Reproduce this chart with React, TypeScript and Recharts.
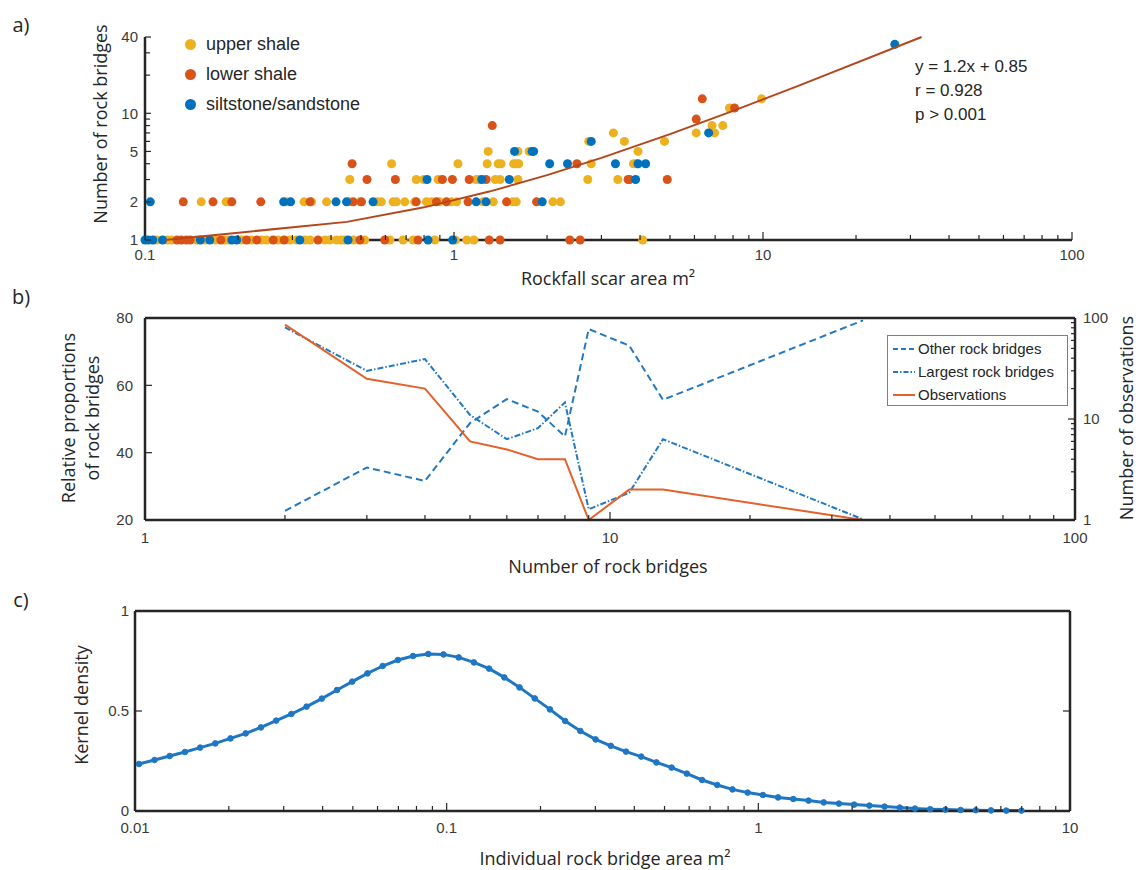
import React from "react";
import { ScatterChart, Scatter, LineChart, Line, XAxis, YAxis, ZAxis, Legend } from "recharts";

const TICK_FONT = "'Liberation Sans', Arial, sans-serif";
const TITLE_FONT = "'Open Sans', sans-serif";
const AXIS = "#262626";

// ---------- panel a: rockfall scar area (m²) vs number of rock bridges ----------
const upperShale: [number, number][] = [
  [0.109, 1], [0.118, 1], [0.122, 1], [0.147, 1], [0.156, 1], [0.168, 1], [0.181, 1], [0.186, 1],
  [0.205, 1], [0.221, 1], [0.238, 1], [0.247, 1], [0.27, 1], [0.294, 1], [0.309, 1], [0.329, 1],
  [0.342, 1], [0.382, 1], [0.396, 1], [0.417, 1], [0.432, 1], [0.443, 1], [0.472, 1], [0.514, 1],
  [0.62, 1], [0.684, 1], [0.737, 1], [0.867, 1], [1.01, 1], [1.1, 1], [1.16, 1], [4.08, 1],
  [0.152, 2], [0.183, 2], [0.187, 2], [0.287, 2], [0.327, 2], [0.346, 2], [0.387, 2], [0.458, 2],
  [0.496, 2], [0.564, 2], [0.582, 2], [0.635, 2], [0.651, 2], [0.693, 2], [0.746, 2], [0.814, 2],
  [0.845, 2], [0.899, 2], [0.981, 2], [1.02, 2], [1.24, 2], [1.34, 2], [1.55, 2], [1.59, 2],
  [2.09, 2], [2.21, 2],
  [0.46, 3], [0.755, 3], [0.798, 3], [0.888, 3], [1.18, 3], [1.21, 3], [1.36, 3], [1.41, 3],
  [1.61, 3], [2.71, 3], [3.39, 3],
  [0.628, 4], [1.03, 4], [1.28, 4], [1.39, 4], [1.42, 4], [1.56, 4], [1.59, 4], [1.62, 4],
  [2.78, 4], [3.81, 4], [3.89, 4],
  [1.29, 5], [1.61, 5], [1.75, 5], [3.94, 5],
  [2.73, 6], [3.56, 6], [4.8, 6],
  [3.28, 7], [6.08, 7], [6.97, 7],
  [6.84, 8], [7.41, 8], [7.79, 11], [9.9, 13],
];

const lowerShale: [number, number][] = [
  [0.127, 1], [0.131, 1], [0.136, 1], [0.14, 1], [0.176, 1], [0.213, 1], [0.23, 1], [0.26, 1],
  [0.282, 1], [0.363, 1], [0.496, 1], [0.597, 1], [0.765, 1], [1.3, 1], [1.41, 1], [2.37, 1], [2.56, 1],
  [0.133, 2], [0.166, 2], [0.191, 2], [0.237, 2], [0.342, 2], [0.472, 2], [0.502, 2], [0.755, 2],
  [0.877, 2], [0.945, 2], [1.11, 2], [1.48, 2], [1.85, 2],
  [0.523, 3], [0.646, 3], [0.917, 3], [0.988, 3], [1.12, 3], [1.27, 3], [3.66, 3], [3.7, 3], [4.9, 3],
  [0.468, 4], [2.5, 4],
  [1.33, 8], [6.08, 9], [8.09, 11], [6.36, 13],
];

const siltstone: [number, number][] = [
  [0.1, 1], [0.1025, 1], [0.106, 1], [0.114, 1], [0.151, 1], [0.162, 1], [0.191, 1], [0.198, 1],
  [0.317, 1], [0.454, 1], [0.824, 1], [0.99, 1],
  [0.104, 2], [0.281, 2], [0.296, 2], [0.415, 2], [0.449, 2], [0.547, 2], [1.18, 2], [1.27, 2], [1.93, 2],
  [0.818, 3], [1.23, 3], [1.51, 3], [3.87, 3],
  [2.04, 4], [2.33, 4], [3.33, 4], [3.94, 4], [4.17, 4],
  [1.57, 5], [1.79, 5], [1.81, 5],
  [2.78, 6], [6.67, 7], [26.7, 35],
];

// fitted line as it is drawn in the figure
const trendArea = [0.116, 0.45, 0.8, 1.3, 2, 3, 5, 8, 13, 32.6];
const trendBridges = [1.0, 1.39, 1.81, 2.41, 3.25, 4.45, 6.85, 10.45, 16.45, 40];

const areaTicksA = [
  0.1, 0.2, 0.3, 0.4, 0.5, 0.6, 0.7, 0.8, 0.9, 1, 2, 3, 4, 5, 6, 7, 8, 9,
  10, 20, 30, 40, 50, 60, 70, 80, 90, 100,
];
const bridgeTicksA = [1, 2, 3, 4, 5, 6, 7, 8, 9, 10, 20, 30, 40];
const bridgeLabelsA = [1, 2, 5, 10, 40];

// ---------- panel b: proportions per number of rock bridges ----------
const bridgeCounts = [2, 3, 4, 5, 6, 7, 8, 9, 11, 13, 35];
const otherPct = [22.7, 35.6, 31.6, 48.8, 55.9, 52.2, 44.8, 76.7, 71.8, 55.7, 79.3];
const largestPct = [77.2, 64.3, 67.8, 51.2, 44, 47.3, 54.9, 23.2, 28.1, 44, 20.2];
const observations = [86, 25, 20, 6, 5, 4, 4, 1, 2, 2, 1];

const countTicksB = [
  1, 2, 3, 4, 5, 6, 7, 8, 9, 10, 20, 30, 40, 50, 60, 70, 80, 90, 100,
];
const pctTicksB = [20, 40, 60, 80];

// ---------- panel c: kernel density of individual rock bridge area ----------
const bridgeArea = [
  0.0103, 0.01155, 0.01292, 0.01446, 0.01618, 0.0181, 0.02025, 0.02266, 0.02536, 0.02838,
  0.03175, 0.03553, 0.03976, 0.04449, 0.04977, 0.05569, 0.06232, 0.06973, 0.07802, 0.0873,
  0.09768, 0.1093, 0.1223, 0.1368, 0.1531, 0.1713, 0.1917, 0.2145, 0.24, 0.2685,
  0.3005, 0.3362, 0.3762, 0.4209, 0.471, 0.527, 0.5897, 0.6598, 0.7383, 0.826,
  0.9243, 1.034, 1.157, 1.295, 1.449, 1.621, 1.814, 2.03, 2.271, 2.541,
  2.843, 3.181, 3.56, 3.983, 4.457, 4.987, 5.58, 6.243, 6.986,
];
const kernelDensity = [
  0.235, 0.255, 0.275, 0.295, 0.317, 0.338, 0.363, 0.388, 0.418, 0.452,
  0.485, 0.522, 0.562, 0.605, 0.647, 0.688, 0.725, 0.755, 0.775, 0.785,
  0.783, 0.768, 0.743, 0.712, 0.668, 0.618, 0.563, 0.508, 0.45, 0.4,
  0.358, 0.326, 0.297, 0.272, 0.243, 0.217, 0.187, 0.155, 0.13, 0.108,
  0.092, 0.08, 0.068, 0.06, 0.052, 0.043, 0.037, 0.032, 0.027, 0.022,
  0.017, 0.012, 0.009, 0.007, 0.005, 0.004, 0.003, 0.002, 0.002,
];

const areaTicksC = [
  0.01, 0.02, 0.03, 0.04, 0.05, 0.06, 0.07, 0.08, 0.09,
  0.1, 0.2, 0.3, 0.4, 0.5, 0.6, 0.7, 0.8, 0.9,
  1, 2, 3, 4, 5, 6, 7, 8, 9, 10,
];
const densityTicksC = [0, 0.5, 1];

// ---------- helpers ----------
type Side = "bottom" | "top" | "left" | "right";
interface TickSpec {
  side: Side;
  labels?: number[];
  major?: number[];
  majorLen?: number;
  minorLen?: number;
  gap?: number;
}

function axisTick(spec: TickSpec) {
  const { side, labels = [], major = [], majorLen = 8, minorLen = 5, gap = 7 } = spec;
  return function Tick(props: any) {
    const { x, y, payload } = props;
    const v = payload.value as number;
    const len = major.includes(v) ? majorLen : minorLen;
    let x2 = x;
    let y2 = y;
    if (side === "bottom") y2 = y - len;
    if (side === "top") y2 = y + len;
    if (side === "left") x2 = x + len;
    if (side === "right") x2 = x - len;
    const style = { fill: "#3a3a3a", fontSize: 15, fontFamily: TICK_FONT };
    let text = null;
    if (labels.includes(v)) {
      if (side === "bottom")
        text = <text x={x} y={y + gap} textAnchor="middle" {...style}>{String(v)}</text>;
      else if (side === "left")
        text = <text x={x - gap} y={y} dy="0.35em" textAnchor="end" {...style}>{String(v)}</text>;
      else if (side === "right")
        text = <text x={x + gap} y={y} dy="0.35em" textAnchor="start" {...style}>{String(v)}</text>;
    }
    return (
      <g>
        <line x1={x} y1={y} x2={x2} y2={y2} stroke={AXIS} strokeWidth={1.2} />
        {text}
      </g>
    );
  };
}

const axisLine = { stroke: AXIS, strokeWidth: 2.5 };
const noShape = () => <g />;

function Txt(props: { x: number; y: number; rotate?: boolean; size?: number; children: React.ReactNode }) {
  const { x, y, rotate, size = 18, children } = props;
  return (
    <div
      style={{
        position: "absolute",
        left: x,
        top: y,
        transform: `translate(-50%, -50%)${rotate ? " rotate(-90deg)" : ""}`,
        whiteSpace: "nowrap",
        fontFamily: TITLE_FONT,
        fontSize: size,
        color: "#262626",
        textAlign: "center",
        lineHeight: "24px",
      }}
    >
      {children}
    </div>
  );
}

const seriesA = [
  { name: "upper shale", color: "#EDB120", data: upperShale },
  { name: "lower shale", color: "#D95319", data: lowerShale },
  { name: "siltstone/sandstone", color: "#0072BD", data: siltstone },
];

const BLUE_B = "#2279c2";
const ORANGE_B = "#e4612b";
const seriesB = [
  { name: "Other rock bridges", color: BLUE_B, dash: "5 3" },
  { name: "Largest rock bridges", color: BLUE_B, dash: "5 2 1.5 2" },
  { name: "Observations", color: ORANGE_B, dash: undefined as string | undefined },
];

function LegendA() {
  return (
    <div style={{ fontFamily: TICK_FONT, fontSize: 18, color: "#262626" }}>
      {seriesA.map((s) => (
        <div key={s.name} style={{ display: "flex", alignItems: "center", height: 30 }}>
          <span style={{ display: "inline-block", width: 11, height: 11, borderRadius: "50%", background: s.color, marginRight: 10 }} />
          {s.name}
        </div>
      ))}
    </div>
  );
}

function LegendB() {
  return (
    <div
      style={{
        fontFamily: TICK_FONT,
        fontSize: 15,
        color: "#262626",
        border: "1px solid #7f7f7f",
        background: "#fff",
        width: 181,
        height: 71,
        boxSizing: "border-box",
        paddingTop: 1,
      }}
    >
      {seriesB.map((s) => (
        <div key={s.name} style={{ display: "flex", alignItems: "center", height: 23 }}>
          <svg width={24} height={10} style={{ marginLeft: 4, marginRight: 2 }}>
            <line x1={1} y1={5} x2={23} y2={5} stroke={s.color} strokeWidth={2} strokeDasharray={s.dash} />
          </svg>
          {s.name}
        </div>
      ))}
    </div>
  );
}

export default function App() {
  const dataB = bridgeCounts.map((n, i) => ({
    n,
    other: otherPct[i],
    largest: largestPct[i],
    obs: observations[i],
  }));
  const dataC = bridgeArea.map((x, i) => ({ x, d: kernelDensity[i] }));
  const trend = trendArea.map((x, i) => ({ x, y: trendBridges[i] }));

  return (
    <div style={{ position: "absolute", left: 0, top: 0, width: 1146, height: 870, background: "#fff" }}>
      {/* ---- a ---- */}
      <div style={{ position: "absolute", left: 0, top: 0 }}>
        <ScatterChart width={1146} height={300} margin={{ top: 37, right: 74, bottom: 20, left: 85 }}>
          <XAxis
            type="number"
            dataKey="x"
            scale="log"
            domain={[0.1, 100]}
            ticks={areaTicksA}
            interval={0}
            tickSize={0}
            tickMargin={0}
            tickLine={false}
            axisLine={axisLine}
            height={40}
            tick={axisTick({ side: "bottom", labels: [0.1, 1, 10, 100], major: [0.1, 1, 10, 100], gap: 20 })}
          />
          <YAxis
            type="number"
            dataKey="y"
            scale="log"
            domain={[1, 40]}
            ticks={bridgeTicksA}
            interval={0}
            tickSize={0}
            tickMargin={0}
            tickLine={false}
            axisLine={axisLine}
            width={60}
            tick={axisTick({ side: "left", labels: bridgeLabelsA, major: bridgeLabelsA, majorLen: 6, minorLen: 5, gap: 7 })}
          />
          <ZAxis range={[44, 44]} />
          <Legend
            layout="vertical"
            align="center"
            verticalAlign="middle"
            content={() => <LegendA />}
            wrapperStyle={{ left: 185, top: 29, width: 260, height: 90 }}
          />
          {seriesA.map((s) => (
            <Scatter
              key={s.name}
              name={s.name}
              data={s.data.map(([x, y]) => ({ x, y }))}
              fill={s.color}
              isAnimationActive={false}
            />
          ))}
          <Scatter
            name="fit"
            data={trend}
            line={{ stroke: "#b5461b", strokeWidth: 2 }}
            shape={noShape}
            legendType="none"
            isAnimationActive={false}
          />
        </ScatterChart>
      </div>

      {/* ---- b ---- */}
      <div style={{ position: "absolute", left: 0, top: 290 }}>
        <LineChart width={1146} height={310} data={dataB} margin={{ top: 18, right: 11, bottom: 40, left: 85 }}>
          <XAxis
            type="number"
            dataKey="n"
            scale="log"
            domain={[1, 100]}
            ticks={countTicksB}
            interval={0}
            tickSize={0}
            tickMargin={0}
            tickLine={false}
            axisLine={axisLine}
            height={40}
            tick={axisTick({ side: "bottom", labels: [1, 10, 100], major: [1, 10, 100], gap: 23 })}
          />
          <XAxis
            xAxisId="top"
            orientation="top"
            type="number"
            scale="log"
            domain={[1, 100]}
            allowDataOverflow
            ticks={countTicksB}
            interval={0}
            tickSize={0}
            tickMargin={0}
            tickLine={false}
            axisLine={axisLine}
            height={10}
            tick={axisTick({ side: "top", major: [1, 10, 100] })}
          />
          <YAxis
            yAxisId="left"
            type="number"
            domain={[20, 80]}
            ticks={pctTicksB}
            interval={0}
            tickSize={0}
            tickMargin={0}
            tickLine={false}
            axisLine={axisLine}
            width={60}
            tick={axisTick({ side: "left", labels: pctTicksB, major: pctTicksB, majorLen: 7, gap: 12 })}
          />
          <YAxis
            yAxisId="right"
            orientation="right"
            type="number"
            scale="log"
            domain={[1, 100]}
            ticks={countTicksB}
            interval={0}
            tickSize={0}
            tickMargin={0}
            tickLine={false}
            axisLine={axisLine}
            width={60}
            tick={axisTick({ side: "right", labels: [1, 10, 100], major: [1, 10, 100], majorLen: 7, minorLen: 4, gap: 8 })}
          />
          <Legend
            layout="vertical"
            align="center"
            verticalAlign="middle"
            content={() => <LegendB />}
            wrapperStyle={{ left: 887, top: 45, width: 181, height: 71 }}
          />
          <Line yAxisId="left" dataKey="other" name="Other rock bridges" stroke={BLUE_B} strokeWidth={2} strokeDasharray="7 4" dot={false} isAnimationActive={false} />
          <Line yAxisId="left" dataKey="largest" name="Largest rock bridges" stroke={BLUE_B} strokeWidth={2} strokeDasharray="6 2 1.5 2" dot={false} isAnimationActive={false} />
          <Line yAxisId="right" dataKey="obs" name="Observations" stroke={ORANGE_B} strokeWidth={2} dot={false} isAnimationActive={false} />
        </LineChart>
      </div>

      {/* ---- c ---- */}
      <div style={{ position: "absolute", left: 0, top: 580 }}>
        <LineChart width={1146} height={260} data={dataC} margin={{ top: 21, right: 56, bottom: 9, left: 75 }}>
          <XAxis
            type="number"
            dataKey="x"
            scale="log"
            domain={[0.01, 10]}
            ticks={areaTicksC}
            interval={0}
            tickSize={0}
            tickMargin={0}
            tickLine={false}
            axisLine={axisLine}
            height={20}
            tick={axisTick({ side: "bottom", labels: [0.01, 0.1, 1, 10], major: [0.01, 0.1, 1, 10], gap: 22 })}
          />
          <XAxis
            xAxisId="top"
            orientation="top"
            type="number"
            scale="log"
            domain={[0.01, 10]}
            allowDataOverflow
            ticks={areaTicksC}
            interval={0}
            tickSize={0}
            tickMargin={0}
            tickLine={false}
            axisLine={axisLine}
            height={10}
            tick={axisTick({ side: "top", major: [0.01, 0.1, 1, 10] })}
          />
          <YAxis
            type="number"
            domain={[0, 1]}
            ticks={densityTicksC}
            interval={0}
            tickSize={0}
            tickMargin={0}
            tickLine={false}
            axisLine={axisLine}
            width={60}
            tick={axisTick({ side: "left", labels: densityTicksC, major: densityTicksC, majorLen: 7, gap: 6 })}
          />
          <YAxis
            yAxisId="r"
            orientation="right"
            type="number"
            domain={[0, 1]}
            allowDataOverflow
            ticks={densityTicksC}
            interval={0}
            tickSize={0}
            tickMargin={0}
            tickLine={false}
            axisLine={axisLine}
            width={20}
            tick={axisTick({ side: "right", major: densityTicksC, majorLen: 7 })}
          />
          <Line
            dataKey="d"
            stroke="#1f77c4"
            strokeWidth={3}
            dot={{ r: 2.8, fill: "#1f77c4", stroke: "#1f77c4", strokeWidth: 1 }}
            isAnimationActive={false}
          />
        </LineChart>
      </div>

      {/* titles and annotations */}
      <Txt x={21} y={25} size={20}>a)</Txt>
      <Txt x={21} y={297} size={20}>b)</Txt>
      <Txt x={21} y={600} size={20}>c)</Txt>

      <Txt x={100} y={124} rotate>Number of rock bridges</Txt>
      <Txt x={608} y={278}>Rockfall scar area m²</Txt>
      <div style={{ position: "absolute", left: 915, top: 55, fontFamily: TICK_FONT, fontSize: 17, lineHeight: "24px", color: "#262626", whiteSpace: "nowrap" }}>
        <div>y = 1.2x + 0.85</div>
        <div>r = 0.928</div>
        <div>p &gt; 0.001</div>
      </div>

      <Txt x={80} y={418} rotate>
        <div>Relative proportions</div>
        <div>of rock bridges</div>
      </Txt>
      <Txt x={1126} y={418} rotate>Number of observations</Txt>
      <Txt x={608} y={566}>Number of rock bridges</Txt>

      <Txt x={81} y={705} rotate>Kernel density</Txt>
      <Txt x={605} y={858}>Individual rock bridge area m²</Txt>
    </div>
  );
}
